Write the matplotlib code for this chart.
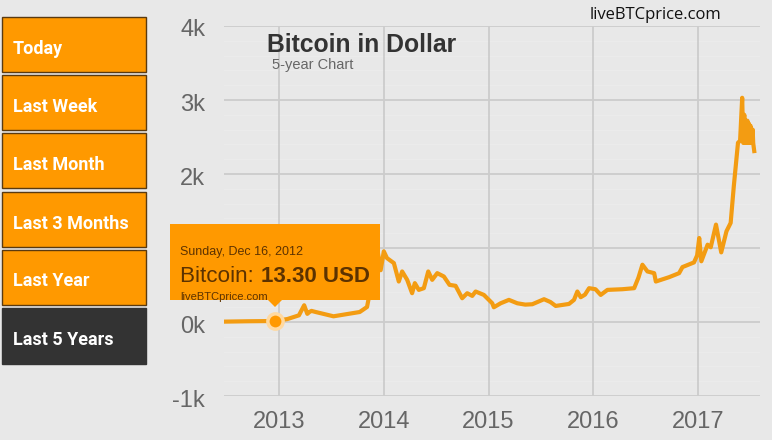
#!/usr/bin/env python3
"""Bitcoin in Dollar, 5-year chart."""
import matplotlib
matplotlib.use("Agg")
import matplotlib.pyplot as plt
from matplotlib.patches import Polygon, Rectangle
from matplotlib.transforms import ScaledTranslation

W, H = 772, 440
BG = "#E8E8E8"
ORANGE = "#FF9900"
LINE = "#F39C12"
DARK = "#333333"
GREY = "#666666"

# price (year as fraction, USD)
years = [
    2012.48, 2012.70, 2012.96, 2013.08, 2013.19, 2013.24, 2013.27, 2013.29, 2013.31, 2013.35,
    2013.52, 2013.77, 2013.84, 2013.88, 2013.92, 2013.97, 2014.00, 2014.03, 2014.096, 2014.143,
    2014.175, 2014.223, 2014.27, 2014.296, 2014.334, 2014.382, 2014.424, 2014.462, 2014.51, 2014.573,
    2014.627, 2014.685, 2014.748, 2014.796, 2014.844, 2014.876, 2014.955, 2015.035, 2015.05, 2015.115,
    2015.194, 2015.274, 2015.35, 2015.417, 2015.529, 2015.59, 2015.64, 2015.767, 2015.815, 2015.847,
    2015.879, 2015.92, 2015.959, 2016.02, 2016.07, 2016.134, 2016.277, 2016.389, 2016.43, 2016.468,
    2016.516, 2016.58, 2016.596, 2016.723, 2016.818, 2016.85, 2016.96, 2016.99, 2017.01, 2017.03,
    2017.09, 2017.12, 2017.17, 2017.22, 2017.27, 2017.31, 2017.34, 2017.38, 2017.40, 2017.42,
    2017.43, 2017.44, 2017.445, 2017.45, 2017.46, 2017.47, 2017.475, 2017.485, 2017.49, 2017.50,
    2017.51, 2017.52, 2017.525, 2017.535,
]
prices = [
    5, 10, 13.3, 40, 90, 226, 110, 135, 150, 135,
    77, 135, 203, 500, 1150, 700, 955, 864, 796, 547,
    683, 570, 389, 525, 434, 457, 683, 570, 660, 615,
    502, 489, 321, 389, 353, 412, 366, 253, 199, 253,
    299, 253, 235, 240, 308, 270, 217, 244, 299, 412,
    335, 370, 457, 443, 366, 434, 443, 457, 600, 774,
    683, 660, 547, 606, 660, 742, 805, 900, 1135, 820,
    1045, 1010, 1316, 941, 1226, 1339, 1835, 2422, 2450, 3030,
    2420, 2800, 2420, 2730, 2420, 2720, 2420, 2680, 2420, 2650,
    2420, 2600, 2420, 2310,
]
point_year = 2012.96
point_price = 13.3

x_ticks = [2013, 2014, 2015, 2016, 2017]
y_ticks = [-1000, 0, 1000, 2000, 3000, 4000]
y_labels = ["-1k", "0k", "1k", "2k", "3k", "4k"]
y_minor = [-800, -600, -400, -200, 200, 400, 600, 800, 1200, 1400, 1600, 1800,
           2200, 2400, 2600, 2800, 3200, 3400, 3600, 3800]

buttons = ["Today", "Last Week", "Last Month", "Last 3 Months", "Last Year", "Last 5 Years"]
button_tops = [17, 75, 133, 192, 250, 308]
button_heights = [55, 55, 55, 55, 55, 56]

plt.rcParams["font.family"] = ["Liberation Sans", "DejaVu Sans"]

fig = plt.figure(figsize=(W / 100, H / 100), dpi=100, facecolor=BG)


def fx(px):
    return px / W


def fy(py):
    return 1 - py / H


def px_rect(left, top, width, height, **kw):
    r = Rectangle((fx(left), fy(top + height)), width / W, height / H,
                  transform=fig.transFigure, **kw)
    fig.add_artist(r)
    return r


ax = fig.add_axes([fx(224), fy(396), 536 / W, 370 / H])
ax.set_facecolor(BG)
for x in x_ticks:
    ax.axvline(x, color="#CCCCCC", linewidth=1.3, zorder=1.5)
ax.plot(years, prices, color=LINE, linewidth=3, solid_joinstyle="round", zorder=3)
ax.plot([point_year], [point_price], "o", color=ORANGE, markersize=11, zorder=4,
        markeredgecolor="#FFD9A0", markeredgewidth=2.5)

ax.set_xlim(2012.475, 2017.59)
ax.set_ylim(-1000, 4000)
ax.set_xticks(x_ticks)
ax.set_yticks(y_ticks)
ax.set_yticklabels(y_labels)
ax.set_yticks(y_minor, minor=True)
ax.tick_params(axis="both", which="both", length=0)
ax.tick_params(axis="x", labelsize=17, labelcolor=GREY, pad=11)
ax.tick_params(axis="y", labelsize=17, labelcolor=GREY, pad=13.5)
ax.grid(axis="y", which="major", color="#CCCCCC", linewidth=1.3)
ax.grid(axis="y", which="minor", color="#EBEBEB", linewidth=1)
ax.set_axisbelow(True)
for label in ax.get_yticklabels():
    label.set_transform(label.get_transform() + ScaledTranslation(0, -2 / 100, fig.dpi_scale_trans))
for spine in ax.spines.values():
    spine.set_visible(False)

fig.text(fx(267), fy(45), "Bitcoin in Dollar", fontsize=17.8, fontweight="bold",
         color=DARK, va="center")
fig.text(fx(272), fy(65), "5-year Chart", fontsize=10.5, color=GREY, va="center")
fig.text(fx(590), fy(15), "liveBTCprice.com", fontsize=12, color="#111111", va="center",
         family=["Open Sans", "DejaVu Sans"])

# left menu
for label, top, height in zip(buttons, button_tops, button_heights):
    active = label == "Last 5 Years"
    px_rect(2, top, 144, height, facecolor=DARK if active else ORANGE,
            edgecolor=DARK if active else "#5A3A10", linewidth=1)
    fig.text(fx(13), fy(top + height / 2 + 4), label, fontsize=13, fontweight="bold", color="white",
             va="center", family=["Roboto", "Liberation Sans"])

# tooltip
px_rect(170, 224, 210, 76, facecolor=ORANGE, edgecolor="none", zorder=5)
pointer = Polygon([(fx(268), fy(300)), (fx(282), fy(300)), (fx(275), fy(307))],
                  transform=fig.transFigure, facecolor=ORANGE, edgecolor="none", zorder=5)
fig.add_artist(pointer)
tip = "#5C3200"
fig.text(fx(180), fy(252), "Sunday, Dec 16, 2012", fontsize=9, color=tip, va="center", zorder=6)
fig.text(fx(180), fy(276), "Bitcoin: ", fontsize=16.2, color=tip, va="center", zorder=6)
fig.text(fx(261), fy(276), "13.30 USD", fontsize=16, fontweight="bold", color=tip, va="center", zorder=6)
fig.text(fx(180), fy(297), "liveBTCprice.com", fontsize=8, color=tip, va="center", zorder=6)

fig.savefig("out.png", dpi=100, facecolor=BG)
